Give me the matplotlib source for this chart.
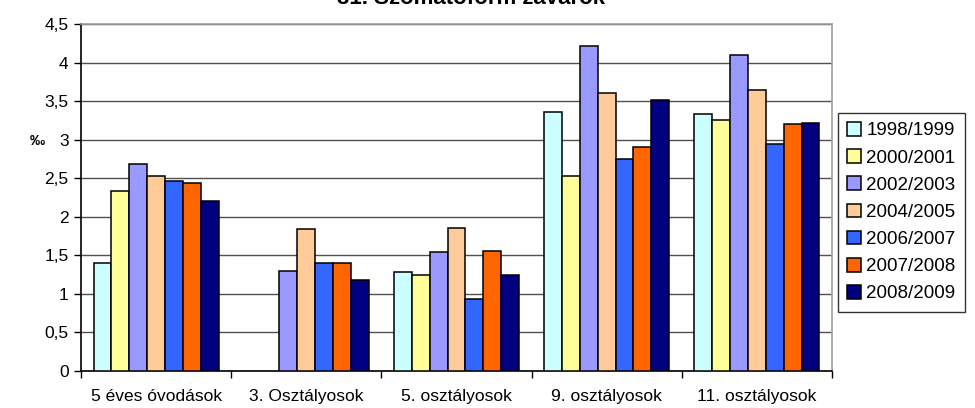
import matplotlib
matplotlib.use("Agg")
import matplotlib.pyplot as plt
import numpy as np

plt.rcParams['font.family'] = ['Liberation Sans', 'DejaVu Sans']

categories = ["5 éves óvodások", "3. Osztályosok", "5. osztályosok", "9. osztályosok", "11. osztályosok"]
series_names = ["1998/1999", "2000/2001", "2002/2003", "2004/2005", "2006/2007", "2007/2008", "2008/2009"]
colors = ["#CCFFFF", "#FFFF99", "#9999FF", "#FFCC99", "#3366FF", "#FF6600", "#000080"]

v_1998 = [1.40, np.nan, 1.28, 3.36, 3.33]
v_2000 = [2.34, np.nan, 1.24, 2.53, 3.25]
v_2002 = [2.68, 1.30, 1.54, 4.22, 4.10]
v_2004 = [2.53, 1.84, 1.86, 3.60, 3.64]
v_2006 = [2.46, 1.40, 0.94, 2.75, 2.95]
v_2007 = [2.44, 1.40, 1.56, 2.91, 3.20]
v_2008 = [2.21, 1.18, 1.245, 3.51, 3.21]
series = [v_1998, v_2000, v_2002, v_2004, v_2006, v_2007, v_2008]

yticks = [0, 0.5, 1, 1.5, 2, 2.5, 3, 3.5, 4, 4.5]
ytick_labels = ["0", "0,5", "1", "1,5", "2", "2,5", "3", "3,5", "4", "4,5"]

fig = plt.figure(figsize=(9.75, 4.08), dpi=100)
ax = fig.add_axes([0.0831, 0.0907, 0.7702, 0.8505])

x = np.arange(len(categories))
w = 0.119
for j, (vals, name, c) in enumerate(zip(series, series_names, colors)):
    ax.bar(x + (j - 3) * w, vals, width=w, color=c, edgecolor='black',
           linewidth=1.1, label=name, zorder=3)

ax.set_xlim(-0.5, len(categories) - 0.5)
ax.set_ylim(0, 4.5)
ax.set_yticks(yticks)
ax.set_yticklabels(ytick_labels, fontsize=12.5)
ax.yaxis.grid(True, color='#505050', linewidth=1.0, zorder=0)
ax.set_axisbelow(True)

ax.set_xticks(x)
ax.set_xticklabels(categories, fontsize=12.5)
ax.set_xticks(np.arange(-0.5, len(categories)), minor=True)
ax.tick_params(axis='x', which='major', length=0, pad=13)
ax.tick_params(axis='x', which='minor', length=5, width=1, direction='out')
ax.tick_params(axis='y', length=5, width=1, direction='out', pad=4)

for s in ['left', 'bottom']:
    ax.spines[s].set_color('black')
    ax.spines[s].set_linewidth(1.2)
for s in ['top', 'right']:
    ax.spines[s].set_color('#A0A0A0')
    ax.spines[s].set_linewidth(1.2)

fig.text(0.038, 0.655, "‰", fontsize=11, fontweight='bold', ha='center', va='center')
fig.text(0.483, 0.991, "31. Szomatoform zavarok", fontsize=16, fontweight='bold',
         ha='center', va='baseline')

leg = fig.legend(loc='upper left', bbox_to_anchor=(0.8595, 0.7238), fontsize=13.5,
                 frameon=True, fancybox=False, handlelength=0.75, handleheight=0.75,
                 handletextpad=0.25, labelspacing=0.52, borderpad=0.5, borderaxespad=0)
leg.get_frame().set_edgecolor('black')
leg.get_frame().set_linewidth(1.0)

fig.savefig("out.png", dpi=100)
